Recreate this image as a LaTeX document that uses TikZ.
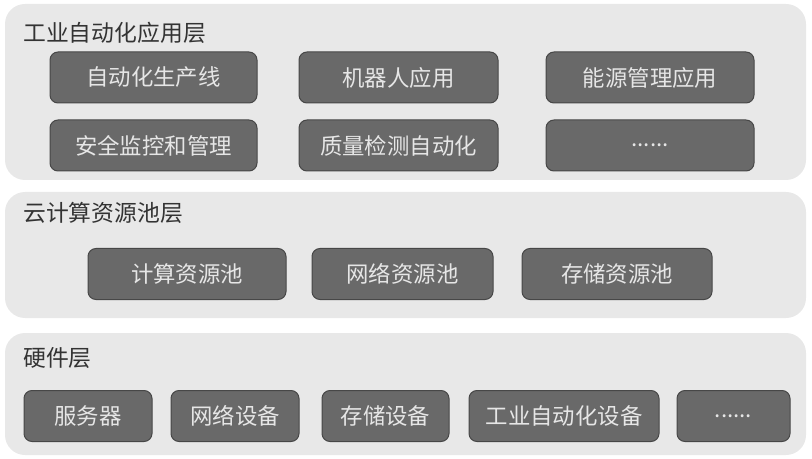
\documentclass[tikz,border=0pt]{standalone}
\usepackage{fontspec}
\setmainfont{Noto Sans CJK SC}
\usepackage{xcolor}
\definecolor{layerfill}{HTML}{E8E8E8}
\definecolor{itemfill}{HTML}{696969}
\definecolor{itemtext}{HTML}{E6E6E6}
\definecolor{titletext}{HTML}{333333}

\tikzset{
  layer/.style={fill=layerfill, rounded corners=10pt, inner sep=0pt},
  item/.style={fill=itemfill, draw=black!72, line width=0.5pt, rounded corners=4pt,
    text=itemtext, minimum height=25.5pt, inner sep=0pt,
    font=\fontsize{11.2}{13}\selectfont},
  layertitle/.style={anchor=west, text=titletext, inner sep=0pt,
    font=\fontsize{11.4}{13}\selectfont}
}

\begin{document}
\begin{tikzpicture}[x=0.5pt,y=-0.5pt]
    \useasboundingbox (0,0) rectangle (812,459);
    % layers
    \node[layer,minimum width=400.5pt,minimum height=88pt](app) at (405.5,92){};
    \node[layer,minimum width=400.5pt,minimum height=63pt](cloud) at (405.5,255){};
    \node[layer,minimum width=400.5pt,minimum height=61pt](hw) at (405.5,394){};
    \node[layertitle](tapp) at (23,33){工业自动化应用层};
    \node[layertitle](tcloud) at (23,213){云计算资源池层};
    \node[layertitle](thw) at (23,358){硬件层};
    % application layer
    \node[item,minimum width=103.5pt](a1) at (153.5,77.5){自动化生产线};
    \node[item,minimum width=99.5pt](a2) at (398.5,77.5){机器人应用};
    \node[item,minimum width=104pt](a3) at (650,77.5){能源管理应用};
    \node[item,minimum width=103.5pt](a4) at (153.5,145.5){安全监控和管理};
    \node[item,minimum width=99.5pt](a5) at (398.5,145.5){质量检测自动化};
    \node[item,minimum width=104pt](a6) at (650,145.5){......};
    % resource pools
    \node[item,minimum width=99pt](c1) at (187,274){计算资源池};
    \node[item,minimum width=90.5pt](c2) at (402.5,274){网络资源池};
    \node[item,minimum width=95pt](c3) at (617,274){存储资源池};
    % hardware
    \node[item,minimum width=64pt](h1) at (88,416){服务器};
    \node[item,minimum width=64pt](h2) at (235,416){网络设备};
    \node[item,minimum width=63.5pt](h3) at (385.5,416){存储设备};
    \node[item,minimum width=95pt](h4) at (564,416){工业自动化设备};
    \node[item,minimum width=56.5pt](h5) at (733.5,416){......};
  \end{tikzpicture}
\end{document}
